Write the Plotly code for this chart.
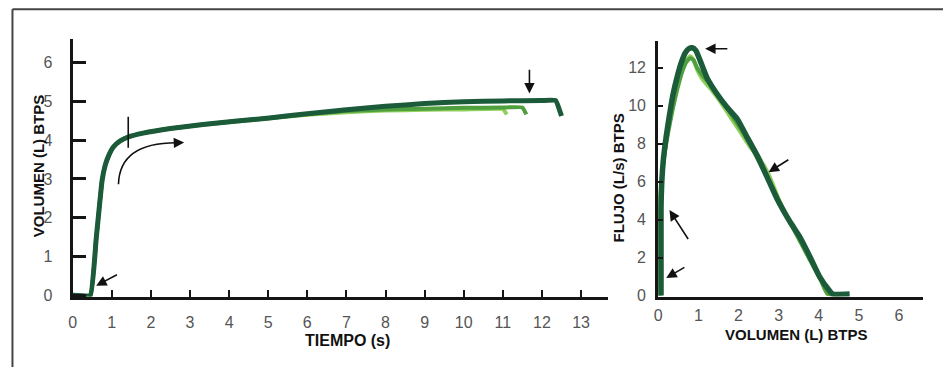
import plotly.graph_objects as go

# ---------------- data ----------------
# Volume-time curves (left panel): time (s) and volume (L)
t_dark = [0, 0.45, 0.6, 0.75, 0.83, 0.92, 1.04, 1.2, 1.42, 1.8, 2.5, 3.33, 4.2, 5.03, 6.0, 7.0, 8.0, 9.0, 10.0, 11.0, 12.0, 12.35, 12.5]
v_dark = [0, 0, 1.45, 2.95, 3.35, 3.6, 3.82, 3.97, 4.08, 4.18, 4.3, 4.4, 4.49, 4.57, 4.68, 4.78, 4.87, 4.94, 4.99, 5.01, 5.02, 5.02, 4.62]

t_med = [0, 0.45, 0.6, 0.75, 0.83, 0.92, 1.04, 1.2, 1.42, 1.8, 2.5, 3.33, 4.2, 5.03, 6.0, 7.0, 8.0, 9.0, 10.0, 11.0, 11.5, 11.6]
v_med = [0, 0, 1.45, 2.95, 3.35, 3.6, 3.82, 3.97, 4.08, 4.18, 4.3, 4.4, 4.49, 4.57, 4.67, 4.75, 4.79, 4.81, 4.83, 4.84, 4.84, 4.66]

t_light = [0, 0.45, 0.6, 0.75, 0.83, 0.92, 1.04, 1.2, 1.42, 1.8, 2.5, 3.33, 4.2, 5.03, 6.0, 7.0, 8.0, 9.0, 10.0, 11.0, 11.1]
v_light = [0, 0, 1.45, 2.95, 3.35, 3.6, 3.82, 3.97, 4.08, 4.18, 4.3, 4.4, 4.48, 4.56, 4.65, 4.72, 4.76, 4.78, 4.79, 4.8, 4.66]

# Flow-volume curves (right panel): volume (L) and flow (L/s)
fv_dark_v = [0.07, 0.07, 0.09, 0.13, 0.2, 0.28, 0.37, 0.47, 0.58, 0.68, 0.76, 0.85, 0.94, 1.04, 1.23, 1.47, 1.72, 1.97, 2.2, 2.46, 2.7, 2.96, 3.28, 3.53, 3.78, 4.02, 4.27, 4.35, 4.77]
fv_dark_f = [0, 4.5, 6.0, 7.2, 8.4, 9.5, 10.6, 11.5, 12.3, 12.8, 13.0, 13.05, 12.9, 12.4, 11.4, 10.6, 9.9, 9.3, 8.4, 7.4, 6.3, 5.1, 3.9, 3.08, 2.05, 1.0, 0.25, 0.08, 0.08]

fv_med_v = [0.04, 0.04, 0.08, 0.15, 0.25, 0.36, 0.48, 0.6, 0.7, 0.8, 0.88, 0.97, 1.1, 1.3, 1.55, 1.8, 2.05, 2.3, 2.55, 2.8, 3.05, 3.3, 3.55, 3.8, 4.05, 4.22, 4.6]
fv_med_f = [0, 4.2, 5.9, 7.3, 8.6, 9.8, 10.9, 11.8, 12.3, 12.5, 12.4, 12.0, 11.6, 11.1, 10.4, 9.6, 8.8, 7.9, 6.9, 5.9, 4.8, 3.8, 2.8, 1.8, 0.85, 0.1, 0.08]

fv_light_v = [0.02, 0.02, 0.06, 0.13, 0.22, 0.33, 0.45, 0.58, 0.7, 0.8, 0.88, 0.97, 1.1, 1.3, 1.55, 1.8, 2.05, 2.3, 2.5, 2.75, 3.0, 3.3, 3.55, 3.8, 4.05, 4.22, 4.6]
fv_light_f = [0, 3.8, 5.6, 7.1, 8.4, 9.6, 10.8, 11.8, 12.4, 12.6, 12.4, 11.9, 11.4, 10.9, 10.2, 9.4, 8.6, 7.8, 7.3, 6.4, 5.1, 3.8, 2.8, 1.8, 0.8, 0.08, 0.08]

left_x_ticks = list(range(0, 14))
left_y_ticks = list(range(0, 7))
right_x_ticks = list(range(0, 7))
right_y_ticks = list(range(0, 13, 2))

DARK = "#1c5b3a"
MED = "#4f9f3f"
LIGHT = "#8fcf5c"

fig = go.Figure()

SM_L = dict(shape="spline", smoothing=0.3)
SM = dict(shape="spline", smoothing=0.5)

# left panel traces
fig.add_trace(go.Scatter(x=t_light, y=v_light, mode="lines", line=dict(color=LIGHT, width=4, **SM_L),
                         xaxis="x", yaxis="y", hoverinfo="skip"))
fig.add_trace(go.Scatter(x=t_med, y=v_med, mode="lines", line=dict(color=MED, width=4, **SM_L),
                         xaxis="x", yaxis="y", hoverinfo="skip"))
fig.add_trace(go.Scatter(x=t_dark, y=v_dark, mode="lines", line=dict(color=DARK, width=5, **SM_L),
                         xaxis="x", yaxis="y", hoverinfo="skip"))

# right panel traces
fig.add_trace(go.Scatter(x=fv_light_v, y=fv_light_f, mode="lines",
                         line=dict(color=LIGHT, width=4, **SM),
                         xaxis="x2", yaxis="y2", hoverinfo="skip"))
fig.add_trace(go.Scatter(x=fv_med_v, y=fv_med_f, mode="lines",
                         line=dict(color=MED, width=4, **SM),
                         xaxis="x2", yaxis="y2", hoverinfo="skip"))
fig.add_trace(go.Scatter(x=fv_dark_v, y=fv_dark_f, mode="lines",
                         line=dict(color=DARK, width=5.5, **SM),
                         xaxis="x2", yaxis="y2", hoverinfo="skip"))

tickfont = dict(family="Liberation Sans, Arial, sans-serif", size=16, color="#555555")
titlefont = dict(family="Liberation Sans, Arial, sans-serif", size=15, color="#111111")

common = dict(showgrid=False, zeroline=False, showline=True, linecolor="#151515",
              tickfont=tickfont, tickcolor="#151515", ticks="inside", fixedrange=True)

fig.update_layout(
    width=943, height=375, autosize=False,
    margin=dict(l=0, r=0, t=0, b=0),
    paper_bgcolor="white", plot_bgcolor="white",
    showlegend=False,
    xaxis=dict(domain=[69 / 943, 607 / 943], range=[0, 13.7], tickvals=left_x_ticks,
               linewidth=3, ticklen=7, tickwidth=2, ticklabelstandoff=9, anchor="y", **common),
    yaxis=dict(domain=[(375 - 303) / 375, (375 - 40) / 375], range=[-0.03, 6.6], tickvals=left_y_ticks,
               linewidth=3, ticklen=13, tickwidth=3, ticklabelstandoff=14, anchor="x", **common),
    xaxis2=dict(domain=[657 / 943, 923 / 943], range=[0, 6.6], tickvals=right_x_ticks,
                linewidth=3, ticklen=0, tickwidth=0, ticklabelstandoff=2, anchor="y2", **common),
    yaxis2=dict(domain=[(375 - 303) / 375, (375 - 42) / 375], range=[-0.05, 13.4], tickvals=right_y_ticks,
                linewidth=3, ticklen=5, tickwidth=2, ticklabelstandoff=6, anchor="x2", **common),
)

# axis titles
fig.add_annotation(text="<b>VOLUMEN (L) BTPS</b>", xref="paper", yref="paper", x=35 / 943, y=(375 - 169) / 375,
                   textangle=-90, showarrow=False, font=titlefont, xanchor="center", yanchor="middle")
fig.add_annotation(text="<b>TIEMPO (s)</b>", xref="paper", yref="paper", x=345 / 943, y=(375 - 348) / 375,
                   showarrow=False, font=dict(titlefont, size=16), xanchor="center", yanchor="middle")
fig.add_annotation(text="<b>FLUJO (L/s) BTPS</b>", xref="paper", yref="paper", x=617 / 943, y=(375 - 182) / 375,
                   textangle=-90, showarrow=False, font=titlefont, xanchor="center", yanchor="middle")
fig.add_annotation(text="<b>VOLUMEN (L) BTPS</b>", xref="paper", yref="paper", x=796 / 943, y=(375 - 342) / 375,
                   showarrow=False, font=titlefont, xanchor="center", yanchor="middle")

# straight arrows: (head_x, head_y, tail_x, tail_y, axis)
arrows = [
    (0.6, 0.25, 1.17, 0.55, "x", "y"),
    (11.68, 5.2, 11.68, 5.85, "x", "y"),
    (2.85, 3.94, 2.6, 3.93, "x", "y"),
    (1.17, 13.0, 1.76, 13.0, "x2", "y2"),
    (2.75, 6.5, 3.28, 7.2, "x2", "y2"),
    (0.28, 4.5, 0.77, 2.9, "x2", "y2"),
    (0.2, 0.93, 0.69, 1.53, "x2", "y2"),
]
for hx, hy, tx, ty, xr, yr in arrows:
    fig.add_annotation(x=hx, y=hy, ax=tx, ay=ty, xref=xr, yref=yr, axref=xr, ayref=yr,
                       showarrow=True, arrowhead=2, arrowsize=1.3, arrowwidth=1.6,
                       arrowcolor="#111111", text="")

# curved arrow body and vertical marker line (left panel)
fig.add_shape(type="path", xref="x", yref="y", path="M 1.17,2.86 Q 1.2,3.95 2.7,3.93",
              line=dict(color="#111111", width=1.6))
fig.add_shape(type="line", xref="x", yref="y", x0=1.42, x1=1.42, y0=3.8, y1=4.6,
              line=dict(color="#111111", width=1.6))

# frame lines (top and left)
fig.add_shape(type="line", xref="paper", yref="paper", x0=8.5 / 943, x1=1, y0=(375 - 9.5) / 375,
              y1=(375 - 9.5) / 375, line=dict(color="#444444", width=2))
fig.add_shape(type="line", xref="paper", yref="paper", x0=8.5 / 943, x1=8.5 / 943, y0=0,
              y1=(375 - 9.5) / 375, line=dict(color="#444444", width=2))

fig.write_html("out.html")
